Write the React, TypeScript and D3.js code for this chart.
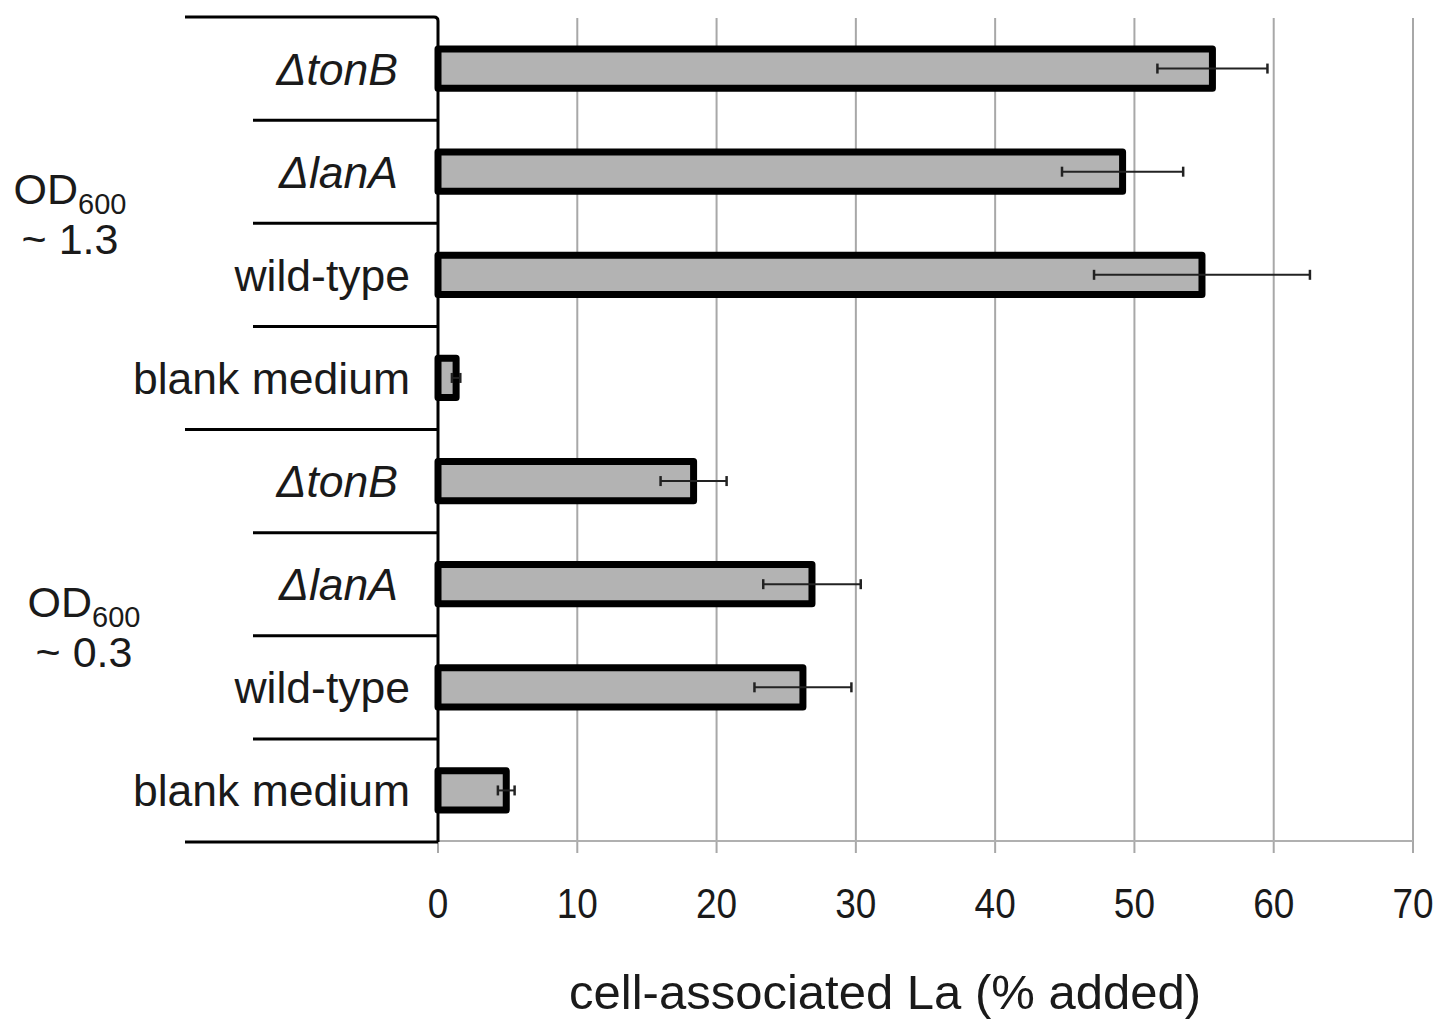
import React from "react";
import * as d3 from "d3";

const categories = ["ΔtonB", "ΔlanA", "wild-type", "blank medium", "ΔtonB", "ΔlanA", "wild-type", "blank medium"];
const italicFlags = [true, true, false, false, true, true, false, false];
const values = [55.6, 49.15, 54.85, 1.3, 18.35, 26.85, 26.2, 4.9];
const errors = [3.95, 4.35, 7.75, 0.3, 2.37, 3.5, 3.48, 0.6];
const groupLabels = [
  { od: "OD", sub: "600", val: "~ 1.3", rows: [0, 1, 2, 3] },
  { od: "OD", sub: "600", val: "~ 0.3", rows: [4, 5, 6, 7] },
];
const xTicks = [0, 10, 20, 30, 40, 50, 60, 70];
const xTitle = "cell-associated La (% added)";

const W = 1440;
const H = 1020;
const FONT = "'Liberation Sans', Arial, Helvetica, sans-serif";

export default function App() {
  const x = d3.scaleLinear().domain([0, 70]).range([438, 1413]);
  const y = d3
    .scaleBand<number>()
    .domain(categories.map((_, i) => i))
    .range([17, 842])
    .paddingInner(0)
    .paddingOuter(0);
  const bw = y.bandwidth();
  const barH = bw * 0.38;
  const x0 = x(0);
  const top = y.range()[0];
  const bottom = y.range()[1];

  return (
    <svg
      width={W}
      height={H}
      viewBox={`0 0 ${W} ${H}`}
      style={{ position: "absolute", left: 0, top: 0, background: "#fff" }}
      fontFamily={FONT}
    >
      <rect x={0} y={0} width={W} height={H} fill="#fff" />
      {/* gridlines */}
      {xTicks.slice(1).map((t) => (
        <line key={"g" + t} x1={x(t)} x2={x(t)} y1={top + 1} y2={bottom + 11} stroke="#a8a8a8" strokeWidth={2} />
      ))}
      {/* bottom axis gray line */}
      <line x1={x0} x2={x(70)} y1={bottom - 1} y2={bottom - 1} stroke="#b0b0b0" strokeWidth={2} />
      <line x1={x0} x2={x0} y1={bottom} y2={bottom + 11} stroke="#a8a8a8" strokeWidth={2} />

      {/* tick labels */}
      {xTicks.map((t) => (
        <text
          key={"t" + t}
          transform={`translate(${x(t)},918) scale(0.86,1)`}
          textAnchor="middle"
          fontSize={43}
          fill="#1a1a1a"
        >
          {t}
        </text>
      ))}
      <text x={885} y={1009} textAnchor="middle" fontSize={49} fill="#1a1a1a">
        {xTitle}
      </text>

      {/* bars */}
      {values.map((v, i) => {
        const cy = (y(i) as number) + bw / 2;
        return (
          <g key={"b" + i}>
            <rect
              x={x0}
              y={cy - barH / 2}
              width={x(v) - x0}
              height={barH}
              fill="#b3b3b3"
              stroke="#000"
              strokeWidth={7}
              strokeLinejoin="round"
            />
          </g>
        );
      })}
      {/* error bars */}
      {values.map((v, i) => {
        const cy = (y(i) as number) + bw / 2;
        const lo = x(v - errors[i]);
        const hi = x(v + errors[i]);
        return (
          <g key={"e" + i} stroke="#222" strokeWidth={2}>
            <line x1={lo} x2={hi} y1={cy} y2={cy} />
            <line x1={lo} x2={lo} y1={cy - 5} y2={cy + 5} strokeWidth={2.5} />
            <line x1={hi} x2={hi} y1={cy - 5} y2={cy + 5} strokeWidth={2.5} />
          </g>
        );
      })}

      {/* left axis bracket */}
      <path
        d={`M185,${top} L${x0 - 4},${top} Q${x0},${top} ${x0},${top + 4} L${x0},${bottom}`}
        fill="none"
        stroke="#000"
        strokeWidth={3}
      />
      {categories.map((_, i) => {
        if (i === 0) return null;
        const yy = y(i) as number;
        const start = i % 4 === 0 ? 185 : 253;
        return <line key={"s" + i} x1={start} x2={x0} y1={yy} y2={yy} stroke="#000" strokeWidth={3} />;
      })}
      <line x1={185} x2={x0} y1={bottom} y2={bottom} stroke="#000" strokeWidth={3} />

      {/* category labels */}
      {categories.map((c, i) => {
        const cy = (y(i) as number) + bw / 2;
        return (
          <text
            key={"c" + i}
            x={italicFlags[i] ? 398 : 410}
            y={cy + 16}
            textAnchor="end"
            fontSize={44.5}
            fontStyle={italicFlags[i] ? "italic" : "normal"}
            fill="#1a1a1a"
          >
            {c}
          </text>
        );
      })}

      {/* group labels */}
      {groupLabels.map((g, gi) => {
        const rowsTop = y(g.rows[0]) as number;
        const rowsBottom = (y(g.rows[g.rows.length - 1]) as number) + bw;
        const mid = (rowsTop + rowsBottom) / 2;
        const cx = gi === 0 ? 70 : 84;
        const base = mid - 19;
        return (
          <g key={"gl" + gi} fill="#1a1a1a">
            <text x={cx} y={base} textAnchor="middle" fontSize={43}>
              <tspan>{g.od}</tspan>
              <tspan fontSize={29} dy={10}>
                {g.sub}
              </tspan>
            </text>
            <text x={cx} y={base + 50} textAnchor="middle" fontSize={43}>
              {g.val}
            </text>
          </g>
        );
      })}
    </svg>
  );
}
